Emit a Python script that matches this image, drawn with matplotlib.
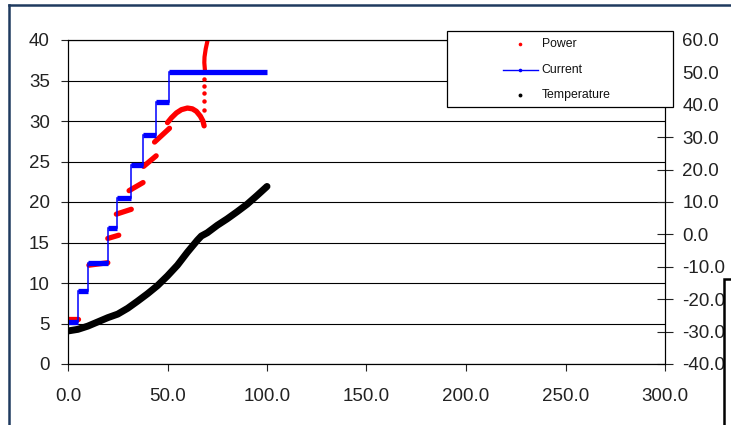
import matplotlib
matplotlib.use("Agg")
import matplotlib.pyplot as plt
from matplotlib.lines import Line2D
from matplotlib.patches import Rectangle
import numpy as np

plt.rcParams['font.family'] = ['Liberation Sans', 'DejaVu Sans']

# current: step edges (x) and level of each step (left axis)
cur_edges = [0, 5.2, 10.2, 19.9, 24.8, 31.7, 37.8, 44.2, 51.0, 100.0]
cur_levels = [5.2, 9.0, 12.5, 16.8, 20.5, 24.6, 28.3, 32.3, 36.1]

# power: short rising dashes, one per current step (left axis)
pw_x0 = [0.0, 10.5, 20.0, 24.3, 30.7, 38.0, 43.5]
pw_x1 = [5.0, 20.0, 25.5, 31.8, 37.7, 44.3, 51.0]
pw_y0 = [5.6, 12.2, 15.5, 18.5, 21.4, 24.4, 27.4]
pw_y1 = [5.6, 12.5, 15.9, 19.1, 22.4, 25.7, 29.1]
# power at the last step: arc, then loose dots, then the run up past 40
arc_x = [50.0, 52.0, 54.5, 57.0, 60.0, 62.5, 64.5, 66.5, 67.8, 68.4]
arc_y = [29.8, 30.4, 31.0, 31.4, 31.6, 31.5, 31.2, 30.6, 30.0, 29.4]
dot_x = [68.2, 68.2, 68.2, 68.2, 68.2, 68.3]
dot_y = [31.4, 32.5, 33.4, 34.3, 35.2, 36.0]
run_x = [68.8, 68.5, 68.6, 69.2, 70.0, 70.3]
run_y = [36.3, 37.2, 37.9, 38.9, 39.8, 41.0]

# temperature (right axis)
tmp_x = [0, 5, 10, 15, 20, 25, 30, 35, 40, 45, 50, 55, 60, 65, 67, 70,
         75, 80, 85, 90, 95, 100]
tmp_y = [-29.8, -29.3, -28.3, -27.0, -25.7, -24.6, -22.8, -20.6, -18.3,
         -15.8, -12.8, -9.5, -5.5, -1.8, -0.5, 0.5, 2.8, 4.8, 7.0, 9.3,
         12.0, 14.8]

W, H = 731, 425
fig = plt.figure(figsize=(W / 100, H / 100), dpi=100)
ax = fig.add_axes([68 / W, 1 - 364 / H, (665 - 68) / W, (364 - 40) / H])

red = '#ff0000'
blue = '#0000ff'

for x0, x1, y0, y1 in zip(pw_x0, pw_x1, pw_y0, pw_y1):
    ax.plot([x0, x1], [y0, y1], color=red, lw=3.8, solid_capstyle='round', zorder=2)
ax.plot(arc_x, arc_y, color=red, lw=3.8, solid_capstyle='round', zorder=2)
ax.plot(dot_x, dot_y, 'o', color=red, ms=3.2, mec='none', zorder=2)
ax.plot(run_x, run_y, color=red, lw=3.0, solid_capstyle='round', zorder=2)

ax.stairs(cur_levels, cur_edges, baseline=None, color=blue, lw=1.1, zorder=3)
ax.hlines(cur_levels, cur_edges[:-1], cur_edges[1:], color=blue, lw=3.8, zorder=3)

ax.set_xlim(0, 300)
ax.set_ylim(0, 40)
ax.set_xticks(np.arange(0, 301, 50))
ax.set_xticklabels(['%.1f' % v for v in np.arange(0, 301, 50)])
ax.set_yticks(np.arange(0, 41, 5))
ax.yaxis.grid(True, color='black', lw=0.8)
ax.set_axisbelow(True)
for s in ax.spines.values():
    s.set_color('black')
    s.set_linewidth(0.8)
ax.tick_params(axis='y', direction='out', length=5, width=0.8, pad=8,
               labelsize=13.5, colors='#222222')
ax.tick_params(axis='x', direction='out', length=5, width=0.8, pad=12,
               labelsize=13.5, colors='#222222')

ax2 = ax.twinx()
ax2.plot(tmp_x, tmp_y, color='black', lw=5.0, solid_capstyle='round',
         solid_joinstyle='round')
ax2.set_ylim(-40, 60)
ax2.set_yticks(np.arange(-40, 61, 10))
ax2.set_yticklabels(['%.1f' % v for v in np.arange(-40, 61, 10)])
ax2.tick_params(axis='y', direction='inout', length=11, width=0.8, pad=7,
                labelsize=13.5, colors='#222222')
for s in ax2.spines.values():
    s.set_color('black')
    s.set_linewidth(0.8)

# legend box
tf = fig.transFigure
fig.add_artist(Rectangle((446.7 / W, 1 - 107.3 / H), (673.3 - 446.7) / W, (107.3 - 30.7) / H,
                         transform=tf, facecolor='white', edgecolor='black', lw=0.9, zorder=5))
rows = [44.3, 70.0, 95.0]
names = ['Power', 'Current', 'Temperature']
fig.add_artist(Line2D([520 / W], [1 - rows[0] / H], transform=tf, marker='o', ms=2.6,
                      color=red, mec='none', ls='none', zorder=6))
fig.add_artist(Line2D([502.7 / W, 538 / W], [1 - rows[1] / H] * 2, transform=tf,
                      color=blue, lw=1.0, zorder=6))
fig.add_artist(Line2D([520 / W], [1 - rows[1] / H], transform=tf, marker='o', ms=2.6,
                      color=blue, mec='none', ls='none', zorder=6))
fig.add_artist(Line2D([520 / W], [1 - rows[2] / H], transform=tf, marker='o', ms=2.8,
                      color='black', mec='none', ls='none', zorder=6))
for r, n in zip(rows, names):
    fig.text(541.7 / W, 1 - r / H, n, fontsize=8.8, va='center', ha='left',
             color='#111111', zorder=6)

# outer chart frame (left and top edges visible)
frame = '#1f3a5f'
fig.add_artist(Line2D([8.5 / W, 8.5 / W], [0, 1 - 5 / H], transform=tf, color=frame, lw=1.8))
fig.add_artist(Line2D([8.5 / W, 1], [1 - 5 / H, 1 - 5 / H], transform=tf, color=frame, lw=1.8))

# neighbouring box overlapping the lower right corner
fig.add_artist(Rectangle((723.5 / W, -0.1), 0.1, (425 - 279) / H + 0.1, transform=tf,
                         facecolor='white', edgecolor='black', lw=1.8, zorder=10))

fig.savefig('out.png', dpi=100)
